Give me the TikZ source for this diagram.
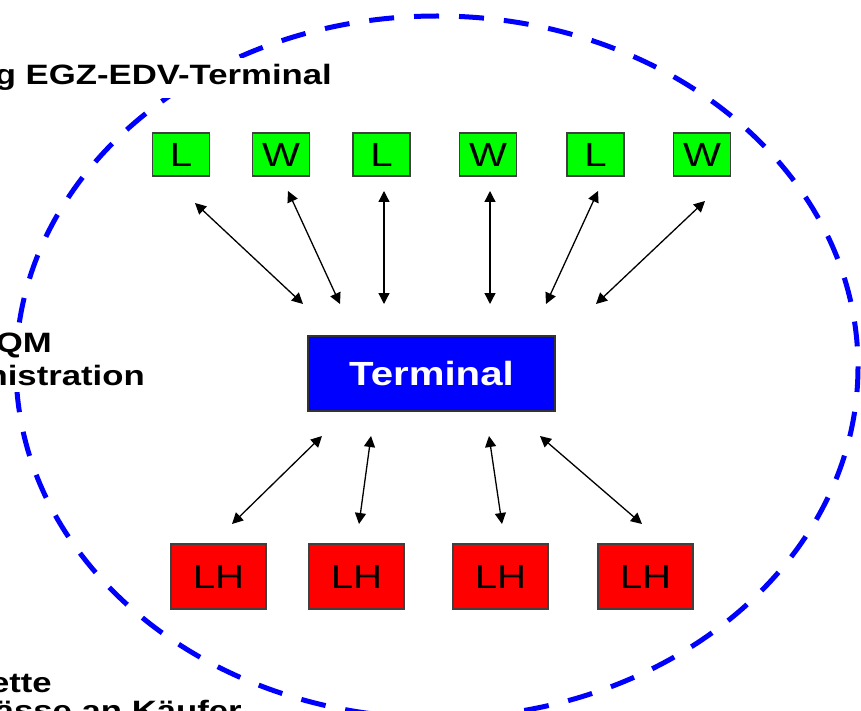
\documentclass[tikz,border=0pt]{standalone}
\usepackage{fontspec}
\setmainfont{Liberation Sans}
\usetikzlibrary{arrows.meta}
\newcommand{\hstr}[1]{\scalebox{1.2}[1.0]{#1}}
\newcommand{\lstr}[1]{\scalebox{1.24}[1.0]{#1}}
\tikzset{
  lbl/.style={font=\fontsize{28}{32}\selectfont\bfseries, fill=white, inner xsep=8pt, inner ysep=7pt, anchor=base east},
  gbox/.style={draw=black!75, line width=1.2pt, fill={rgb,255:red,0;green,255;blue,0}, minimum width=57pt, minimum height=43pt, inner sep=0pt, font=\fontsize{33.5}{36}\selectfont},
  rbox/.style={draw=black!75, line width=1.2pt, fill={rgb,255:red,255;green,0;blue,0}, minimum width=95pt, minimum height=65pt, inner sep=0pt, font=\fontsize{33.5}{36}\selectfont},
  tbox/.style={draw=black!80, line width=1.5pt, fill={rgb,255:red,0;green,0;blue,255}, text=white, minimum width=247pt, minimum height=75pt, inner sep=0pt, font=\fontsize{33.5}{36}\selectfont\bfseries},
  link/.style={line width=1.3pt, {Triangle[length=11pt,width=11pt]}-{Triangle[length=11pt,width=11pt]}},
  ring/.style={draw={rgb,255:red,0;green,0;blue,255}, line width=5pt, dash pattern=on 25pt off 20pt}
}
\begin{document}
\begin{tikzpicture}[x=1pt,y=-1pt]
\clip (0,0) rectangle (861,711);
\fill[white] (0,0) rectangle (861,711);
% dashed ellipse
\draw[ring] (437,367) ellipse [x radius=421, y radius=351];
% side labels (white boxes over the ellipse)
\node[lbl] (t1) at (340,85) {\lstr{Anmeldung EGZ-EDV-Terminal}};
\node[lbl] (t2) at (60,352) {\lstr{EGZ-QM}};
\node[lbl] (t3) at (153,385) {\lstr{Administration}};
\node[lbl] (t4) at (60,692) {\lstr{Etikette}};
\node[lbl] (t5) at (250,720) {\lstr{Pässe an Käufer}};
% top boxes
\node[gbox] (g1) at (181,154.5) {\hstr{L}};
\node[gbox] (g2) at (281,154.5) {\hstr{W}};
\node[gbox] (g3) at (381.5,154.5) {\hstr{L}};
\node[gbox] (g4) at (488,154.5) {\hstr{W}};
\node[gbox] (g5) at (595.5,154.5) {\hstr{L}};
\node[gbox] (g6) at (702,154.5) {\hstr{W}};
% terminal
\node[tbox] (term) at (431.5,373.5) {\hstr{Terminal}};
% bottom boxes
\node[rbox] (r1) at (218.5,576.5) {\hstr{LH}};
\node[rbox] (r2) at (356.5,576.5) {\hstr{LH}};
\node[rbox] (r3) at (500.5,576.5) {\hstr{LH}};
\node[rbox] (r4) at (645.5,576.5) {\hstr{LH}};
% arrow end points
\coordinate (a1s) at (195,203); \coordinate (a1e) at (303,304);
\coordinate (a2s) at (288,191); \coordinate (a2e) at (340,304);
\coordinate (a3s) at (384,191); \coordinate (a3e) at (384,304);
\coordinate (a4s) at (490,191); \coordinate (a4e) at (490,304);
\coordinate (a5s) at (598,191); \coordinate (a5e) at (546,304);
\coordinate (a6s) at (705,201); \coordinate (a6e) at (596,304);
\coordinate (b1s) at (322,436); \coordinate (b1e) at (232,524);
\coordinate (b2s) at (371,436); \coordinate (b2e) at (359,524);
\coordinate (b3s) at (489,436); \coordinate (b3e) at (502,524);
\coordinate (b4s) at (540,436); \coordinate (b4e) at (642,524);
\foreach \n in {a1,a2,a3,a4,a5,a6,b1,b2,b3,b4}
  \draw[link] (\n s) -- (\n e);
\end{tikzpicture}
\end{document}
